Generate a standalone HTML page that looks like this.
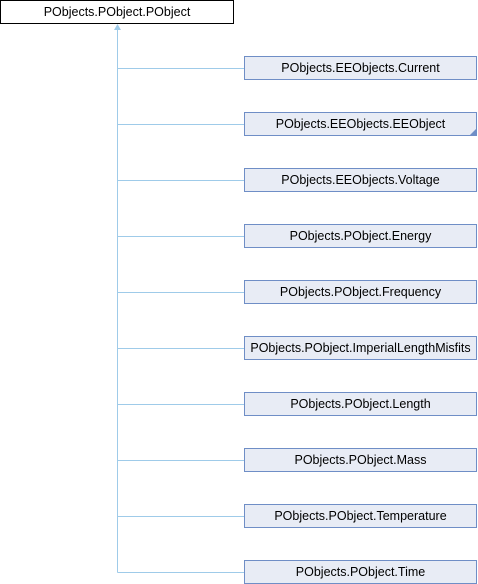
<!DOCTYPE html>
<html><head><style>
body{margin:0;background:#fff;width:478px;height:584px;position:relative;overflow:hidden;font-family:"Liberation Sans",sans-serif;font-size:12.5px;}
.b{position:absolute;box-sizing:border-box;height:24px;line-height:22px;text-align:center;color:#000;white-space:nowrap;}
.c{left:244px;width:233px;background:#e8ecf5;border:1px solid #6f8ec6;}
.r{left:0;top:0;width:234px;background:#fff;border:1px solid #000;}
</style></head><body>
<svg width="478" height="584" style="position:absolute;left:0;top:0">
<g stroke="#9fcbe9" stroke-width="1" fill="none">
<line x1="117.5" y1="30" x2="117.5" y2="572.5"/>
<line x1="117.5" y1="68.5" x2="244" y2="68.5"/>
<line x1="117.5" y1="124.5" x2="244" y2="124.5"/>
<line x1="117.5" y1="180.5" x2="244" y2="180.5"/>
<line x1="117.5" y1="236.5" x2="244" y2="236.5"/>
<line x1="117.5" y1="292.5" x2="244" y2="292.5"/>
<line x1="117.5" y1="348.5" x2="244" y2="348.5"/>
<line x1="117.5" y1="404.5" x2="244" y2="404.5"/>
<line x1="117.5" y1="460.5" x2="244" y2="460.5"/>
<line x1="117.5" y1="516.5" x2="244" y2="516.5"/>
<line x1="117.5" y1="572.5" x2="244" y2="572.5"/>
</g>
<polygon points="117.5,24 114,30 121,30" fill="#9fcbe9"/>
</svg>
<div class="b r">PObjects.PObject.PObject</div>
<div class="b c" style="top:56px">PObjects.EEObjects.Current</div>
<div class="b c" style="top:112px">PObjects.EEObjects.EEObject</div>
<svg width="8" height="8" style="position:absolute;left:469px;top:128px"><polygon points="7,1 7,7 1,7" fill="#6f8ec6"/></svg>
<div class="b c" style="top:168px">PObjects.EEObjects.Voltage</div>
<div class="b c" style="top:224px">PObjects.PObject.Energy</div>
<div class="b c" style="top:280px">PObjects.PObject.Frequency</div>
<div class="b c" style="top:336px">PObjects.PObject.ImperialLengthMisfits</div>
<div class="b c" style="top:392px">PObjects.PObject.Length</div>
<div class="b c" style="top:448px">PObjects.PObject.Mass</div>
<div class="b c" style="top:504px">PObjects.PObject.Temperature</div>
<div class="b c" style="top:560px">PObjects.PObject.Time</div>
</body></html>
